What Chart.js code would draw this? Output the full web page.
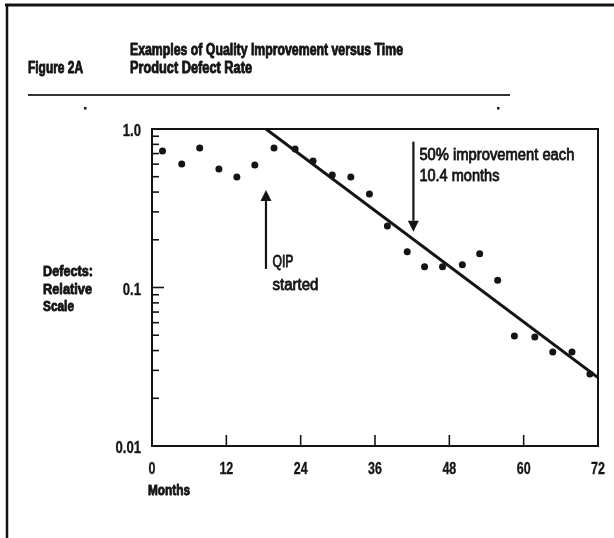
<!DOCTYPE html>
<html lang="en">
<head>
  <meta charset="UTF-8" />
  <title>Figure 2A | Product Defect Rate</title>
  <style>
    html, body {
      margin: 0;
      padding: 0;
      background: #fff;
    }
    #chart {
      display: block;
    }
  </style>
</head>
<body>
  <canvas id="chart" width="614" height="538"></canvas>

  <script src="https://cdn.jsdelivr.net/npm/chart.js"></script>
  <script>
    // values (months, relative defect rate on a log scale)
    const months = [1.7, 4.8, 7.7, 10.8, 13.7, 16.6, 19.7, 23.1, 26.0, 29.1, 32.1, 35.1,
                    38.0, 41.2, 44.0, 46.9, 50.1, 52.9, 55.8, 58.5, 61.8, 64.7, 67.8, 70.7];
    const defectRate = [0.726, 0.601, 0.759, 0.559, 0.498, 0.593, 0.759, 0.748, 0.628, 0.513, 0.498, 0.389,
                        0.244, 0.168, 0.135, 0.135, 0.139, 0.163, 0.111, 0.0494, 0.0487, 0.0392, 0.0392, 0.0285];

    // fitted line: 50% improvement each 10.4 months
    const trendMonths = [18.4, 72];
    const trendRate = [1.0, 0.027];

    const xTicks = [0, 12, 24, 36, 48, 60, 72];
    const xTickLabels = ['0', '12', '24', '36', '48', '60', '72'];
    const yTicks = [0.01, 0.1, 1];
    const yTickLabels = ['0.01', '0.1', '1.0'];

    // arrows: month, tail value, tip value
    const qipArrow = [18.4, 0.131, 0.412];
    const rateArrow = [42.2, 0.832, 0.225];

    const ink = '#141414';
    const face = '"Liberation Sans", Arimo, Arial, sans-serif';

    const yMinorTicks = [];
    [0.01, 0.1].forEach(d => {
      for (let k = 2; k <= 9; k++) yMinorTicks.push(k * d);
    });

    // draw text squeezed to a width (the original type is a heavy condensed face)
    function squeeze(ctx, str, x, y, font, width, align, heavy) {
      ctx.save();
      ctx.font = font;
      const w = ctx.measureText(str).width;
      const k = width / w;
      let left = x;
      if (align === 'right') left = x - width;
      if (align === 'center') left = x - width / 2;
      ctx.translate(left, y);
      ctx.scale(k, 1);
      ctx.textAlign = 'left';
      ctx.textBaseline = 'alphabetic';
      ctx.fillText(str, 0, 0);
      if (heavy) {
        ctx.lineWidth = heavy;
        ctx.lineJoin = 'round';
        ctx.strokeText(str, 0, 0);
      }
      ctx.restore();
    }

    function squeezeBy(ctx, str, x, y, font, k, align, heavy) {
      ctx.save();
      ctx.font = font;
      const w = ctx.measureText(str).width * k;
      ctx.restore();
      squeeze(ctx, str, x, y, font, w, align, heavy);
    }

    function arrow(ctx, x, yTail, yTip) {
      const dir = yTip < yTail ? -1 : 1;
      const headLen = 11;
      ctx.beginPath();
      ctx.moveTo(x, yTail);
      ctx.lineTo(x, yTip - dir * headLen);
      ctx.lineWidth = 2.2;
      ctx.stroke();
      ctx.beginPath();
      ctx.moveTo(x, yTip);
      ctx.lineTo(x - 5.5, yTip - dir * headLen);
      ctx.lineTo(x + 5.5, yTip - dir * headLen);
      ctx.closePath();
      ctx.fill();
    }

    const figurePlugin = {
      id: 'figure',
      afterDraw(chart) {
        const { ctx, chartArea: a, scales: { x, y } } = chart;
        ctx.save();
        ctx.fillStyle = ink;
        ctx.strokeStyle = ink;

        // page frame (scanned page edges)
        ctx.lineWidth = 3;
        ctx.beginPath();
        ctx.moveTo(5, 5); ctx.lineTo(614, 5);
        ctx.stroke();
        ctx.lineWidth = 2.5;
        ctx.beginPath();
        ctx.moveTo(7, 4); ctx.lineTo(7, 538);
        ctx.stroke();

        // header
        const head = 'bold 16px ' + face;
        squeeze(ctx, 'Examples of Quality Improvement versus Time', 130, 55, head, 273, 'left', 0.9);
        squeeze(ctx, 'Figure 2A', 28, 72.5, head, 55, 'left', 0.9);
        squeeze(ctx, 'Product Defect Rate', 130, 72.5, head, 122, 'left', 0.9);
        ctx.strokeStyle = '#333';
        ctx.lineWidth = 2;
        ctx.beginPath();
        ctx.moveTo(28, 95); ctx.lineTo(510, 95);
        ctx.stroke();
        ctx.strokeStyle = ink;
        ctx.fillRect(84, 107, 2.5, 2.5);
        ctx.fillRect(497, 107, 2.5, 2.5);

        // plot frame
        ctx.lineWidth = 2;
        ctx.strokeRect(a.left, a.top, a.right - a.left, a.bottom - a.top);

        // inward ticks
        ctx.lineWidth = 1.6;
        yMinorTicks.forEach(v => {
          const py = y.getPixelForValue(v);
          ctx.beginPath();
          ctx.moveTo(a.left, py); ctx.lineTo(a.left + 7, py);
          ctx.stroke();
        });
        yTicks.forEach(v => {
          const py = y.getPixelForValue(v);
          ctx.beginPath();
          ctx.moveTo(a.left, py); ctx.lineTo(a.left + 12, py);
          ctx.stroke();
        });
        xTicks.forEach(v => {
          const px = x.getPixelForValue(v);
          ctx.beginPath();
          ctx.moveTo(px, a.bottom); ctx.lineTo(px, a.bottom - 11);
          ctx.stroke();
        });

        // tick labels
        const tickFont = 'bold 16px ' + face;
        yTicks.forEach((v, i) => {
          squeezeBy(ctx, yTickLabels[i], a.left - 11, y.getPixelForValue(v) + 7, tickFont, 0.82, 'right', 0.3);
        });
        xTicks.forEach((v, i) => {
          squeezeBy(ctx, xTickLabels[i], x.getPixelForValue(v), a.bottom + 28, tickFont, 0.78, 'center', 0.3);
        });

        // axis titles
        const bold = 'bold 15px ' + face;
        squeeze(ctx, 'Defects:', 43, 276, bold, 50, 'left', 0.9);
        squeeze(ctx, 'Relative', 43, 293.5, bold, 49, 'left', 0.9);
        squeeze(ctx, 'Scale', 43, 311, bold, 31, 'left', 0.9);
        squeeze(ctx, 'Months', 148, 495, bold, 42, 'left', 0.9);

        // annotations
        const note = '16px ' + face;
        const qx = x.getPixelForValue(qipArrow[0]);
        const qTail = y.getPixelForValue(qipArrow[1]);
        arrow(ctx, qx, qTail, y.getPixelForValue(qipArrow[2]));
        squeeze(ctx, 'QIP', qx + 6.5, qTail - 2, note, 21, 'left', 0.8);
        squeeze(ctx, 'started', qx + 6.5, qTail + 21.5, note, 46, 'left', 0.8);

        const rx = x.getPixelForValue(rateArrow[0]);
        const rTail = y.getPixelForValue(rateArrow[1]);
        arrow(ctx, rx, rTail, y.getPixelForValue(rateArrow[2]));
        squeeze(ctx, '50% improvement each', rx + 6, rTail + 18, note, 155, 'left', 0.8);
        squeeze(ctx, '10.4 months', rx + 6, rTail + 39.5, note, 80, 'left', 0.8);

        ctx.restore();
      }
    };

    new Chart(document.getElementById('chart'), {
      type: 'scatter',
      data: {
        datasets: [
          {
            label: 'Product defect rate',
            data: months.map((m, i) => ({ x: m, y: defectRate[i] })),
            pointRadius: 3.5,
            pointHoverRadius: 3.5,
            backgroundColor: ink,
            borderWidth: 0
          },
          {
            type: 'line',
            label: '50% improvement each 10.4 months',
            data: trendMonths.map((m, i) => ({ x: m, y: trendRate[i] })),
            showLine: true,
            borderColor: ink,
            borderWidth: 3,
            pointRadius: 0,
            fill: false
          }
        ]
      },
      options: {
        responsive: false,
        animation: false,
        devicePixelRatio: 1,
        layout: { padding: { top: 129, right: 16, bottom: 0, left: 0 } },
        plugins: {
          legend: { display: false },
          tooltip: { enabled: false }
        },
        scales: {
          x: {
            type: 'linear',
            min: 0,
            max: 72,
            afterFit: s => { s.height = 92; },
            ticks: { display: false, stepSize: 12 },
            grid: { display: false },
            border: { display: false }
          },
          y: {
            type: 'logarithmic',
            min: 0.01,
            max: 1,
            afterFit: s => { s.width = 152; },
            ticks: { display: false },
            grid: { display: false },
            border: { display: false }
          }
        }
      },
      plugins: [figurePlugin]
    });
  </script>
</body>
</html>
